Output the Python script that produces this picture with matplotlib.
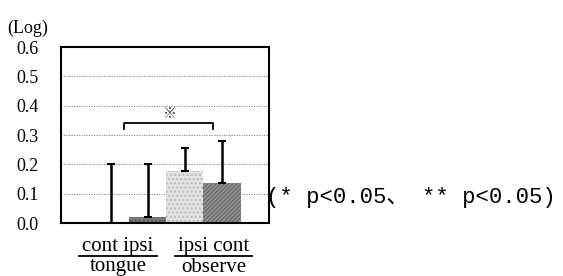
import numpy as np
import matplotlib.pyplot as plt

# data
groups = ['cont', 'ipsi', 'ipsi', 'cont']
means = [0.0, 0.02, 0.178, 0.135]
upper_err = [0.20, 0.18, 0.078, 0.143]
yticks = [0.0, 0.1, 0.2, 0.3, 0.4, 0.5, 0.6]
group_names = ['tongue', 'observe']

fig = plt.figure(figsize=(5.63, 2.76), dpi=100)
ax = fig.add_axes([61/563, 1-223/276, 208/563, 176/276])

x = np.arange(len(means))
face = ['#555555', '#7a7a7a', '#e2e2e2', '#959595']
hatch = [None, '....', '....', '////////']
edge = ['#555555', '#5a5a5a', '#b8b8b8', '#6a6a6a']
for i in range(len(means)):
    ax.bar(x[i], means[i], width=1.0, color=face[i], hatch=hatch[i],
           edgecolor=edge[i], linewidth=0, zorder=2)

ax.errorbar(x, means, yerr=[[0]*4, upper_err], fmt='none', ecolor='black',
            elinewidth=1.8, capsize=3.2, capthick=1.5, zorder=3)

ax.set_ylim(0, 0.6)
ax.set_xlim(-1.35, 4.27)
ax.set_yticks(yticks)
ax.set_yticklabels(['%.1f' % t for t in yticks], family='Liberation Serif', fontsize=13)
ax.tick_params(axis='y', length=0, pad=16)
ax.set_xticks([])
for t in yticks[1:-1]:
    ax.axhline(t, color='#777777', linestyle=(0, (1.5, 1.5)), linewidth=0.6, zorder=1)
for s in ax.spines.values():
    s.set_linewidth(1.5)

# significance bracket
ax.plot([0.35, 0.35, 2.76, 2.76], [0.32, 0.34, 0.34, 0.32], color='black', lw=1.3)
ax.text(1.6, 0.37, '※', ha='center', va='center', fontsize=10,
        family=['Noto Sans CJK JP'], color='#444444')

# group labels
fig.text(118/563, 1-246/276, 'cont ipsi', ha='center', va='center',
         family='Liberation Serif', fontsize=15)
fig.text(214/563, 1-246/276, 'ipsi cont', ha='center', va='center',
         family='Liberation Serif', fontsize=15)
fig.add_artist(plt.Line2D([79/563, 157/563], [1-256/276, 1-256/276], color='black', lw=1.3))
fig.add_artist(plt.Line2D([175/563, 252/563], [1-256/276, 1-256/276], color='black', lw=1.3))
fig.text(118/563, 1-267/276, group_names[0], ha='center', va='center',
         family='Liberation Serif', fontsize=15)
fig.text(214/563, 1-267/276, group_names[1], ha='center', va='center',
         family='Liberation Serif', fontsize=15)

fig.text(7/563, 1-28/276, '(Log)', ha='left', va='center',
         family='Liberation Serif', fontsize=13)
fig.text(266/563, 1-197/276, '(* p<0.05、 ** p<0.05)', ha='left', va='center',
         family=['Liberation Mono', 'Noto Sans CJK JP'], fontsize=16)

fig.savefig('out.png', dpi=100)
